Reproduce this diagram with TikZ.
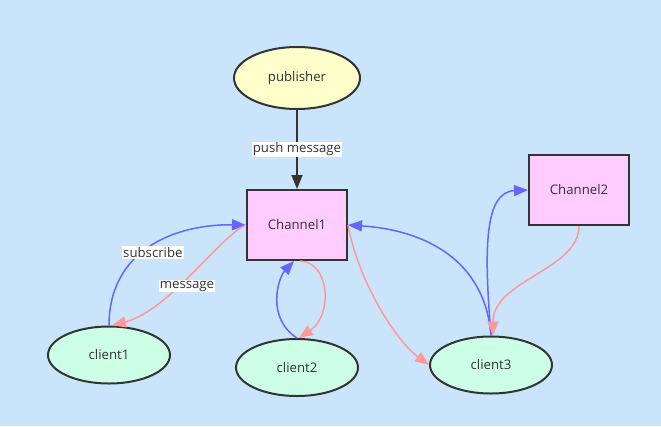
\documentclass[tikz,border=0pt]{standalone}
\usepackage{fontspec}
\setmainfont{Open Sans}
\usepackage{tikz}
\usetikzlibrary{positioning,arrows.meta,shapes.geometric}
\definecolor{bgblue}{HTML}{CAE4FC}
\definecolor{ink}{HTML}{333333}
\definecolor{pubfill}{HTML}{FFFFCC}
\definecolor{chanfill}{HTML}{FFCCFF}
\definecolor{clientfill}{HTML}{CCFFE6}
\definecolor{subblue}{HTML}{6666FF}
\definecolor{msgpink}{HTML}{FF9999}

\begin{document}
\begin{tikzpicture}[x=1pt,y=-1pt,>={Triangle[length=14pt,width=11pt]},
    font=\fontsize{13.2}{16}\selectfont,text=ink,
    pub/.style={draw=ink,line width=2pt,ellipse,fill=pubfill,inner sep=0pt,minimum width=126pt,minimum height=62pt},
    chan/.style={draw=ink,line width=2pt,fill=chanfill,minimum width=100pt,minimum height=70pt},
    client/.style={draw=ink,line width=2pt,ellipse,fill=clientfill,inner sep=0pt,minimum width=122pt,minimum height=57pt},
    sub/.style={->,draw=subblue,line width=1.5pt},
    msg/.style={->,draw=msgpink,line width=1.5pt},
    lbl/.style={fill=white,inner sep=1pt,text=ink}]
    \fill[bgblue] (0,0) rectangle (661,426);
    \useasboundingbox (0,0) rectangle (661,426);
    \node[pub] (pub) at (297,78) {publisher};
    \node[chan,below=79pt of pub] (ch1) {Channel1};
    \node[chan] (ch2) at (579,190) {Channel2};
    \node[client] (c1) at (109,355) {client1};
    \node[client,below=77pt of ch1] (c2) {client2};
    \node[client] (c3) at (491,365) {client3};
    % publisher pushes into Channel1
    \draw[->,draw=ink,line width=1.5pt] (pub) -- (ch1) node[lbl,midway] {push message};
    % client1
    \draw[sub] (c1.north) .. controls (109,250) and (175,224) .. (ch1.west) node[lbl,pos=0.5,xshift=2pt,yshift=-6pt] {subscribe};
    \draw[msg] (ch1.west) .. controls (220,236) and (170,310) .. ([xshift=3pt]c1.north) node[lbl,pos=0.55,xshift=3pt,yshift=-6pt] {message};
    % client2
    \draw[sub] (c2.north) .. controls (266,318) and (278,278) .. ([xshift=-3pt]ch1.south);
    \draw[msg] ([xshift=3pt]ch1.south) .. controls (330,262) and (333,315) .. ([xshift=2pt]c2.north);
    % client3
    \draw[sub] (c3.north) .. controls (485,260) and (425,230) .. (ch1.east);
    \draw[msg] (ch1.east) .. controls (358,280) and (395,340) .. (c3.west);
    \draw[sub] (c3.north) .. controls (484,250) and (484,192) .. (ch2.west);
    \draw[msg] (ch2.south) .. controls (579,270) and (493,280) .. ([xshift=2pt]c3.north);
\end{tikzpicture}
\end{document}
